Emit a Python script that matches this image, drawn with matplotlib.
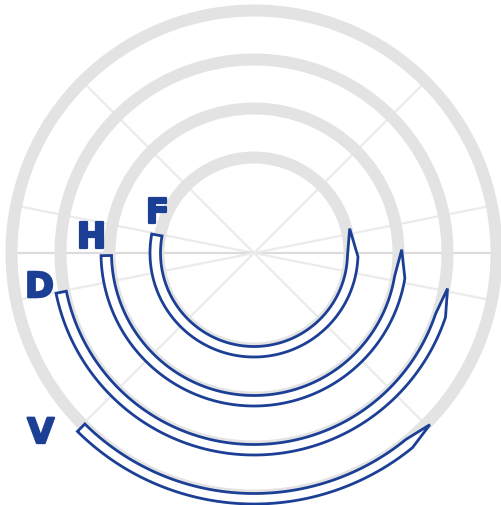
import matplotlib
matplotlib.use('Agg')
import matplotlib.pyplot as plt
import matplotlib.patheffects as pe
import numpy as np

# categories from outermost track to innermost
categories = ['V', 'D', 'H', 'F']
arc_start = [225.3, 191.5, 181.0, 169.5]   # degrees, flat end
arc_end = [315.7, 349.6, 361.3, 374.3]     # degrees, arrow tip
spoke_angles = [0, 11.25, 45, 135, 168.75, 180, 191.25, 225, 315, 348.75]

blue = '#1c3f96'
ring_color = '#e3e3e3'
spoke_color = '#ebebeb'

W, H = 502, 506
cx, cy = 254, 252          # centre in pixels (from bottom)
R = 262                    # radius limit in pixels
r_outer_track = 242.5
track_step = 49
ring_w = 12
taper = 28                 # arrow tip length in pixels

fig = plt.figure(figsize=(W / 100, H / 100), dpi=100)
ax = fig.add_axes([(cx - R) / W, (cy - R) / H, 2 * R / W, 2 * R / H], projection='polar')
ax.set_ylim(0, R)
ax.axis('off')

# spokes
for a in spoke_angles:
    c = '#dcdcdc' if a in (0, 180) else spoke_color
    ax.plot([np.deg2rad(a)] * 2, [0, 238], color=c, lw=1.6, zorder=1, solid_capstyle='butt')

# background tracks
for i in range(len(categories)):
    rc = r_outer_track - track_step * i
    ax.bar(0, ring_w, width=2 * np.pi, bottom=rc - ring_w / 2, color=ring_color,
           edgecolor='none', zorder=2)

# bars with arrow tip
for i, (cat, s, e) in enumerate(zip(categories, arc_start, arc_end)):
    rc = r_outer_track - track_step * i
    r_in, r_out = rc - 2, rc + 8.5
    r_mid = (r_in + r_out) / 2
    ts = np.deg2rad(s)
    te = np.deg2rad(e)
    tk = te - taper / r_mid
    inner = np.linspace(ts, tk, 200)
    outer = np.linspace(tk, ts, 200)
    th = np.concatenate([inner, [te], outer, [ts]])
    rr = np.concatenate([np.full(200, r_in), [r_mid], np.full(200, r_out), [r_in]])
    ax.fill(th, rr, facecolor='white', edgecolor=blue, lw=2.0, zorder=3, joinstyle='miter')

# labels next to the flat end of each bar
label_offsets = [(-37, -2), (-17, 6), (-10, 18), (5, 21)]
for i, (cat, s) in enumerate(zip(categories, arc_start)):
    rc = r_outer_track - track_step * i
    ax.annotate(cat, xy=(np.deg2rad(s), rc + 8), xytext=label_offsets[i],
                textcoords='offset pixels', ha='center', va='center',
                fontsize=25, fontweight='bold', color=blue, zorder=4,
                path_effects=[pe.withStroke(linewidth=1.6, foreground=blue)])

fig.savefig('out.png', dpi=100)
